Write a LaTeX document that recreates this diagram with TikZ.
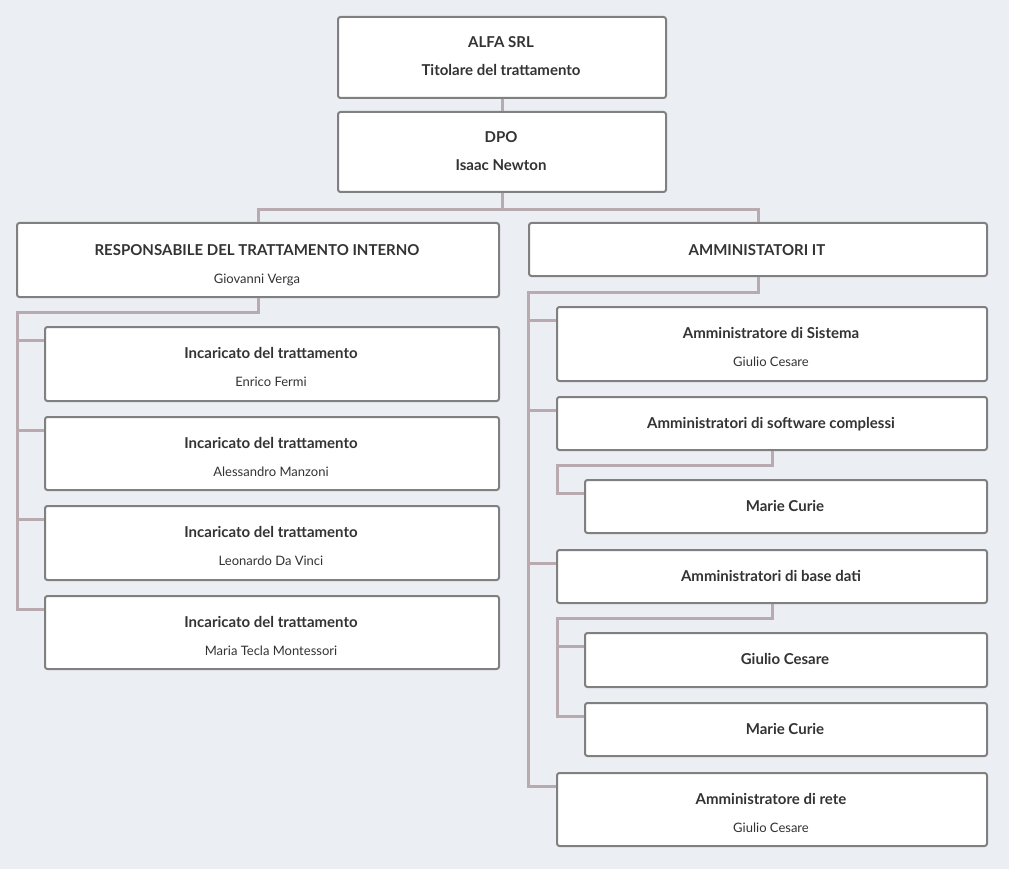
\documentclass[tikz,border=0pt]{standalone}
\usepackage{fontspec}
\setmainfont{Lato}
\definecolor{bgc}{HTML}{EBEEF3}
\definecolor{bordc}{HTML}{808080}
\definecolor{linkc}{HTML}{B9AAAF}
\definecolor{txtc}{HTML}{333333}
\tikzset{
  box/.style={draw=bordc, fill=white, line width=2pt, rounded corners=2.5pt, inner sep=0pt, anchor=north west},
  ttl/.style={anchor=base, inner sep=0pt, text=txtc, font=\fontsize{15}{17}\selectfont\bfseries},
  sub/.style={anchor=base, inner sep=0pt, text=txtc, font=\fontsize{13}{15}\selectfont},
  link/.style={draw=linkc, line width=3pt}
}
\begin{document}
\begin{tikzpicture}[x=1pt,y=-1pt]
\fill[bgc] (0,0) rectangle (1009,869);
\useasboundingbox (0,0) rectangle (1009,869);
% boxes
\node[box, minimum width=328pt, minimum height=81pt] (alfa) at (337,16) {};
\node[box, minimum width=328pt, minimum height=80pt] (dpo) at (337,111) {};
\node[box, minimum width=482pt, minimum height=74pt] (resp) at (16,222) {};
\node[box, minimum width=458pt, minimum height=53pt] (amm) at (528,222) {};
\node[box, minimum width=454pt, minimum height=74pt] (i1) at (44,326) {};
\node[box, minimum width=454pt, minimum height=73pt] (i2) at (44,416) {};
\node[box, minimum width=454pt, minimum height=74pt] (i3) at (44,505) {};
\node[box, minimum width=454pt, minimum height=73pt] (i4) at (44,595) {};
\node[box, minimum width=430pt, minimum height=74pt] (as) at (556,306) {};
\node[box, minimum width=430pt, minimum height=53pt] (asc) at (556,396) {};
\node[box, minimum width=402pt, minimum height=53pt] (mc1) at (584,479) {};
\node[box, minimum width=430pt, minimum height=53pt] (abd) at (556,549) {};
\node[box, minimum width=402pt, minimum height=54pt] (gc) at (584,632) {};
\node[box, minimum width=402pt, minimum height=53pt] (mc2) at (584,702) {};
\node[box, minimum width=430pt, minimum height=73pt] (ar) at (556,772) {};
% texts
\node[ttl] (alfat) at (501,48) {ALFA SRL};
\node[ttl] (alfas) at (501,76) {Titolare del trattamento};
\node[ttl] (dpot) at (501,143) {DPO};
\node[ttl] (dpos) at (501,171) {Isaac Newton};
\node[ttl] (respt) at (257,255) {RESPONSABILE DEL TRATTAMENTO INTERNO};
\node[sub] (resps) at (257,283) {Giovanni Verga};
\node[ttl] (ammt) at (757,255) {AMMINISTATORI IT};
\node[ttl] (i1t) at (271,358) {Incaricato del trattamento};
\node[sub] (i1s) at (271,386) {Enrico Fermi};
\node[ttl] (i2t) at (271,448) {Incaricato del trattamento};
\node[sub] (i2s) at (271,476) {Alessandro Manzoni};
\node[ttl] (i3t) at (271,537) {Incaricato del trattamento};
\node[sub] (i3s) at (271,565) {Leonardo Da Vinci};
\node[ttl] (i4t) at (271,627) {Incaricato del trattamento};
\node[sub] (i4s) at (271,655) {Maria Tecla Montessori};
\node[ttl] (ast) at (771,338) {Amministratore di Sistema};
\node[sub] (ass) at (771,366) {Giulio Cesare};
\node[ttl] (asct) at (771,428) {Amministratori di software complessi};
\node[ttl] (mc1t) at (785,511) {Marie Curie};
\node[ttl] (abdt) at (771,581) {Amministratori di base dati};
\node[ttl] (gct) at (785,664) {Giulio Cesare};
\node[ttl] (mc2t) at (785,734) {Marie Curie};
\node[ttl] (art) at (771,804) {Amministratore di rete};
\node[sub] (ars) at (771,832) {Giulio Cesare};
% connectors
\coordinate (rl) at (17,312);
\coordinate (al) at (528,292);
\coordinate (al1) at (557,465);
\coordinate (al2) at (557,618);
\draw[link] (alfa.south) -- (dpo.north);
\draw[link] (dpo.south) -- ++(0,17) -| (resp.north);
\draw[link] (dpo.south) -- ++(0,17) -| (amm.north);
\draw[link] (resp.south) |- (rl) |- ([yshift=-14pt]i4.north west);
\draw[link] (rl) |- ([yshift=-14pt]i1.north west);
\draw[link] (rl) |- ([yshift=-14pt]i2.north west);
\draw[link] (rl) |- ([yshift=-14pt]i3.north west);
\draw[link] (amm.south) |- (al) |- ([yshift=-14pt]ar.north west);
\draw[link] (al) |- ([yshift=-14pt]as.north west);
\draw[link] (al) |- ([yshift=-14pt]asc.north west);
\draw[link] (al) |- ([yshift=-14pt]abd.north west);
\draw[link] (asc.south) |- (al1) |- ([yshift=-14pt]mc1.north west);
\draw[link] (abd.south) |- (al2) |- ([yshift=-14pt]mc2.north west);
\draw[link] (al2) |- ([yshift=-14pt]gc.north west);
\end{tikzpicture}
\end{document}
